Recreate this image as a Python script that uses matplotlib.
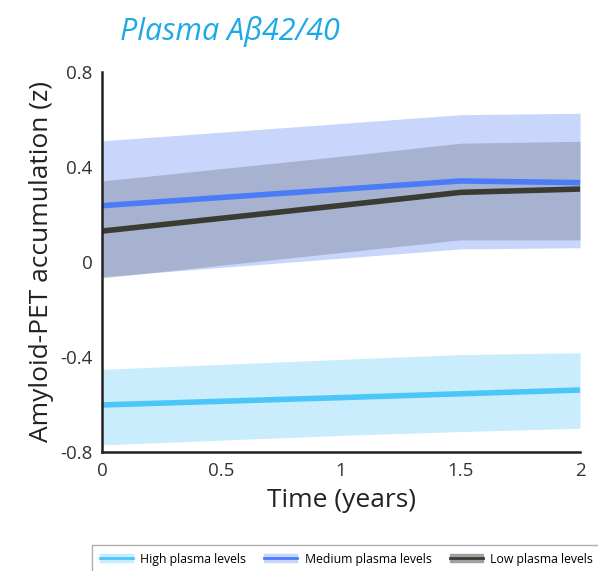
import matplotlib.pyplot as plt
from matplotlib.patches import Patch
from matplotlib.lines import Line2D

plt.rcParams['font.family'] = ['Open Sans', 'DejaVu Sans']

# time points (years)
years = [0, 1, 1.5, 2]

# high plasma levels
high_mean = [-0.602, -0.571, -0.555, -0.539]
high_lo = [-0.77, -0.73, -0.714, -0.70]
high_hi = [-0.452, -0.41, -0.39, -0.382]

# medium plasma levels
med_mean = [0.237, 0.306, 0.341, 0.334]
med_lo = [-0.062, 0.016, 0.055, 0.06]
med_hi = [0.51, 0.583, 0.62, 0.626]

# low plasma levels
low_mean = [0.13, 0.238, 0.293, 0.307]
low_lo = [-0.067, 0.04, 0.093, 0.093]
low_hi = [0.341, 0.445, 0.50, 0.508]

c_high, c_high_band = '#4cc6f8', '#c9edfc'
c_med, c_med_band = '#4a7cf8', '#c7d6fa'
c_low, c_low_band = '#3a3b32', '#5a5f6e'

fig = plt.figure(figsize=(5.98, 5.71), dpi=100)
ax = fig.add_axes([0.1706, 0.2084, 0.7994, 0.6656])

ax.fill_between(years, high_lo, high_hi, color=c_high_band, lw=0)
ax.fill_between(years, med_lo, med_hi, color=c_med_band, lw=0)
ax.fill_between(years, low_lo, low_hi, color=c_low_band, alpha=0.3, lw=0)
ax.plot(years, high_mean, color=c_high, lw=4, solid_capstyle='butt')
ax.plot(years, med_mean, color=c_med, lw=4, solid_capstyle='butt')
ax.plot(years, low_mean, color=c_low, lw=4, solid_capstyle='butt')

ax.set_xlim(0, 2)
ax.set_ylim(-0.8, 0.8)
ax.set_xticks([0, 0.5, 1, 1.5, 2])
ax.set_xticklabels(['0', '0.5', '1', '1.5', '2'])
ax.set_yticks([-0.8, -0.4, 0, 0.4, 0.8])
ax.set_yticklabels(['-0.8', '-0.4', '0', '0.4', '0.8'])
ax.tick_params(length=0, labelsize=13.5, colors='#333333', pad=7)
for s in ['top', 'right']:
    ax.spines[s].set_visible(False)
for s in ['left', 'bottom']:
    ax.spines[s].set_linewidth(1.8)
    ax.spines[s].set_color('#222222')

ax.set_xlabel('Time (years)', fontsize=19, color='#222222', labelpad=6)
ax.set_ylabel('Amyloid-PET accumulation (z)', fontsize=19, color='#222222', labelpad=4)

fig.text(0.2, 0.945, 'Plasma Aβ42/40', fontsize=22, style='italic',
         color='#1ea9e6', va='center', ha='left')

handles = [
    (Patch(color=c_high_band), Line2D([], [], color=c_high, lw=2)),
    (Patch(color=c_med_band), Line2D([], [], color=c_med, lw=2)),
    (Patch(color='#a0a0a0'), Line2D([], [], color=c_low, lw=2)),
]
leg = fig.legend(handles, ['High plasma levels', 'Medium plasma levels', 'Low plasma levels'],
                 loc='lower center', bbox_to_anchor=(0.579, -0.014), ncol=3,
                 fontsize=8.8, frameon=True, fancybox=False, edgecolor='#999999',
                 handlelength=2.7, handleheight=0.6, handletextpad=0.6,
                 columnspacing=1.5, borderpad=0.6)
leg.get_frame().set_linewidth(1)

fig.savefig('out.png', dpi=100)
